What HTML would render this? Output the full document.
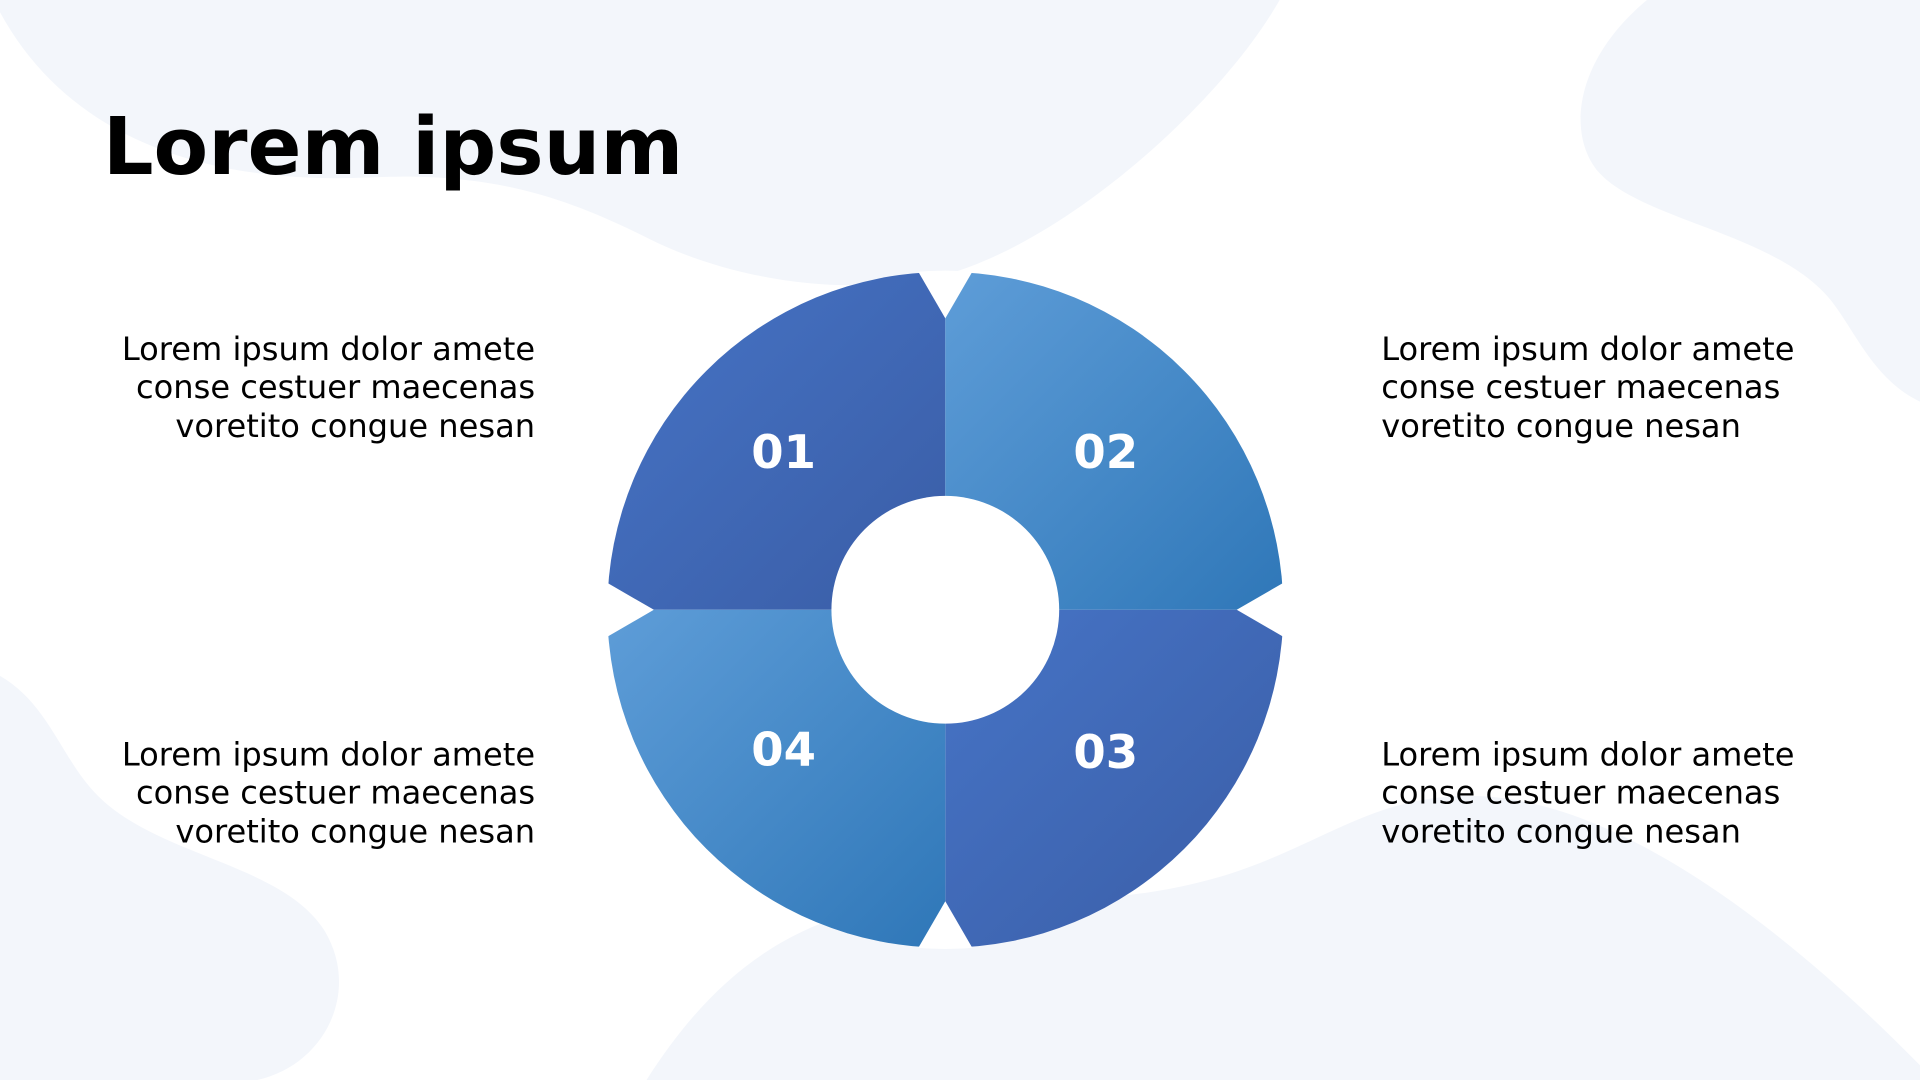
<!DOCTYPE html>
<html><head><meta charset="utf-8"><style>
html,body{margin:0;padding:0;background:#fff;}
svg{display:block}
</style></head><body>
<svg width="1920" height="1080" viewBox="0 0 1568 882" xmlns="http://www.w3.org/2000/svg">
<defs>
<linearGradient id="dk" x1="0" y1="0" x2="1" y2="1"><stop offset="0" stop-color="#4674C6"/><stop offset="1" stop-color="#3A5DA6"/></linearGradient>
<linearGradient id="lt" x1="0" y1="0" x2="1" y2="1"><stop offset="0" stop-color="#5E9DD8"/><stop offset="1" stop-color="#2F77B8"/></linearGradient>
<clipPath id="cc"><circle cx="0" cy="0" r="277"/></clipPath>
</defs>
<g fill="#F3F6FB">
<path d="M0,0 L1045,0 C1000,80 880,190 780,222 C700,245 600,230 530,195 C460,160 400,140 300,145 C180,150 60,120 0,10 Z"/>
<path d="M1345,0 L1568,0 L1568,328 C1530,310 1515,270 1495,245 C1450,190 1340,180 1305,140 C1280,110 1285,50 1345,0 Z"/>
<path d="M0,552 C40,575 50,620 80,650 C130,700 230,705 265,760 C295,810 265,870 210,882 L0,882 Z"/>
<path d="M528,882 C580,800 640,755 720,740 C820,730 900,745 1000,715 C1080,690 1120,650 1200,650 C1320,650 1460,760 1568,870 L1568,882 Z"/>
</g>
<g transform="translate(772,498)">
<path d="M0,0 L-276,0 A276,276 0 0 1 0,-276 Z" fill="url(#dk)"/>
<path d="M0,0 L0,-276 A276,276 0 0 1 276,0 Z" fill="url(#lt)"/>
<path d="M0,0 L276,0 A276,276 0 0 1 0,276 Z" fill="url(#dk)"/>
<path d="M0,0 L0,276 A276,276 0 0 1 -276,0 Z" fill="url(#lt)"/>
<g fill="#fff" clip-path="url(#cc)">
<polygon points="-22,-290 22,-290 22,-276 0,-238 -22,-276"/>
<polygon points="-22,290 22,290 22,276 0,238 -22,276"/>
<polygon points="-290,-22 -290,22 -276,22 -238,0 -276,-22"/>
<polygon points="290,-22 290,22 276,22 238,0 276,-22"/>
</g>
<circle r="93" fill="#fff"/>
</g>
<g font-family="'DejaVu Sans','Liberation Sans',sans-serif" font-weight="bold" fill="#fff" font-size="38" text-anchor="middle">
<text x="640" y="382">01</text>
<text x="903" y="382">02</text>
<text x="903" y="627">03</text>
<text x="640" y="625">04</text>
</g>
<text x="84" y="142" font-family="'DejaVu Sans','Liberation Sans',sans-serif" font-weight="bold" font-size="65" fill="#000">Lorem ipsum</text>
<g font-family="'DejaVu Sans','Liberation Sans',sans-serif" font-size="26.2" fill="#000">
<g text-anchor="end">
<text x="437" y="294">Lorem ipsum dolor amete</text>
<text x="437" y="325">conse cestuer maecenas</text>
<text x="437" y="357">voretito congue nesan</text>
<text x="437" y="625">Lorem ipsum dolor amete</text>
<text x="437" y="656">conse cestuer maecenas</text>
<text x="437" y="688">voretito congue nesan</text>
</g>
<text x="1128" y="294">Lorem ipsum dolor amete</text>
<text x="1128" y="325">conse cestuer maecenas</text>
<text x="1128" y="357">voretito congue nesan</text>
<text x="1128" y="625">Lorem ipsum dolor amete</text>
<text x="1128" y="656">conse cestuer maecenas</text>
<text x="1128" y="688">voretito congue nesan</text>
</g>
</svg>
</body></html>
